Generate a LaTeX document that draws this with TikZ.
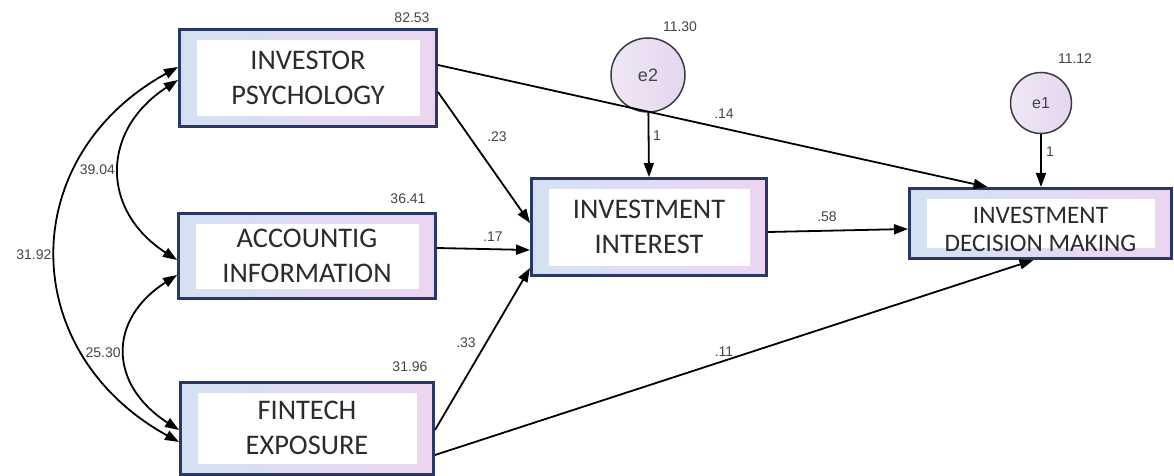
\documentclass[tikz,border=0pt]{standalone}
\usepackage{fontspec}
\setmainfont{Carlito}
\newfontfamily\labelfont{Liberation Sans}
\usetikzlibrary{arrows.meta}

\definecolor{boxnavy}{HTML}{2A3866}
\definecolor{boxblue}{HTML}{D3E1F3}
\definecolor{boxpink}{HTML}{ECD5F1}
\definecolor{errfill}{HTML}{E4D7EF}
\definecolor{errline}{HTML}{3A3A46}
\definecolor{txtgray}{HTML}{2B2B2B}
\definecolor{numgray}{HTML}{444444}

\tikzset{
  varbox/.style={draw=boxnavy, line width=1.5pt, left color=boxblue, right color=boxpink,
    text=txtgray, align=center, inner sep=0pt,
    font=\fontsize{14.2}{17.5}\selectfont,
    path picture={\fill[white] ([shift={(8.5pt,-5.5pt)}]path picture bounding box.north west)
      rectangle ([shift={(-8.5pt,5pt)}]path picture bounding box.south east);}},
  errnode/.style={circle, draw=errline, line width=0.75pt, left color=errfill!60, right color=errfill,
    text=numgray, inner sep=0pt},
  num/.style={font=\labelfont\fontsize{7}{8}\selectfont, text=numgray, inner sep=0pt},
  path/.style={draw=black, line width=0.9pt, -{Triangle[length=7pt,width=5pt]}},
  covar/.style={draw=black, line width=0.9pt, {Triangle[length=7pt,width=5pt]}-{Triangle[length=7pt,width=5pt]}}
}

\begin{document}
\begin{tikzpicture}[x=0.5pt, y=-0.5pt]
    \useasboundingbox (0,0) rectangle (1174,476);

    % Observed variables
    \node[varbox, minimum width=128.5pt, minimum height=48.5pt] (ip) at (308,78) {INVESTOR\\PSYCHOLOGY};
    \node[varbox, minimum width=128.5pt, minimum height=42.5pt] (ai) at (307,256) {ACCOUNTIG\\INFORMATION};
    \node[varbox, minimum width=126.5pt, minimum height=46pt] (fe) at (307,428) {FINTECH\\EXPOSURE};
    \node[varbox, minimum width=117.5pt, minimum height=48.5pt] (ii) at (649,227) {INVESTMENT\\INTEREST};
    \node[varbox, minimum width=131pt, minimum height=35pt,
          font=\fontsize{12.6}{14}\selectfont] (idm) at (1040.5,223.5) {\rule{0pt}{14pt}INVESTMENT\\DECISION MAKING};

    % Error terms
    \node[errnode, minimum size=37pt, font=\labelfont\fontsize{9}{10}\selectfont] (e2) at (648,75) {e2};
    \node[errnode, minimum size=30.5pt, font=\labelfont\fontsize{8}{9}\selectfont] (e1) at (1041,103) {e1};

    % Variances
    \node[num] (v1) at (412,18) {82.53};
    \node[num] (v2) at (408,199) {36.41};
    \node[num] (v3) at (410,367) {31.96};
    \node[num] (v4) at (680,27) {11.30};
    \node[num] (v5) at (1075,59) {11.12};

    % Covariances
    \draw[covar] ([yshift=5.5pt]ip.west) .. controls +(-163,90) and +(-163,-90) .. ([yshift=-7pt]fe.west)
        node[num, pos=0.5, left=2pt] (c3) {31.92};
    \draw[covar] ([yshift=-1pt]ip.west) .. controls +(-77,50) and +(-77,-50) .. ([yshift=-2pt]ai.west)
        node[num, pos=0.5, left=2pt] (c1) {39.04};
    \draw[covar] ([yshift=-9.5pt]ai.west) .. controls +(-70,45) and +(-70,-45) .. ([yshift=-1pt]fe.west)
        node[num, pos=0.5, left=2pt] (c2) {25.30};

    % Regression paths
    \draw[path] ([yshift=-7pt]ip.east) -- ([yshift=2pt]ii.west);
    \draw[path] ([yshift=6.5pt]ip.east) -- ([xshift=-26.5pt]idm.north);
    \draw[path] ([yshift=4pt]ai.east) -- ([yshift=-11.5pt]ii.west);
    \draw[path] ([yshift=-1pt]fe.east) -- ([yshift=-20.5pt]ii.west);
    \draw[path] ([yshift=-13.5pt]fe.east) -- ([xshift=-3.5pt]idm.south);
    \draw[path] ([yshift=-2.5pt]ii.east) -- ([yshift=-2.75pt]idm.west);
    \draw[path] (e2) -- (ii.north);
    \draw[path] (e1) -- (e1 |- idm.north);

    % Path weights
    \node[num] (w1) at (497,137) {.23};
    \node[num] (w2) at (724,114) {.14};
    \node[num] (w3) at (657,136) {1};
    \node[num] (w4) at (1050,152) {1};
    \node[num] (w5) at (493,237) {.17};
    \node[num] (w6) at (827,217) {.58};
    \node[num] (w7) at (466,343) {.33};
    \node[num] (w8) at (724,352) {.11};

\end{tikzpicture}
\end{document}
